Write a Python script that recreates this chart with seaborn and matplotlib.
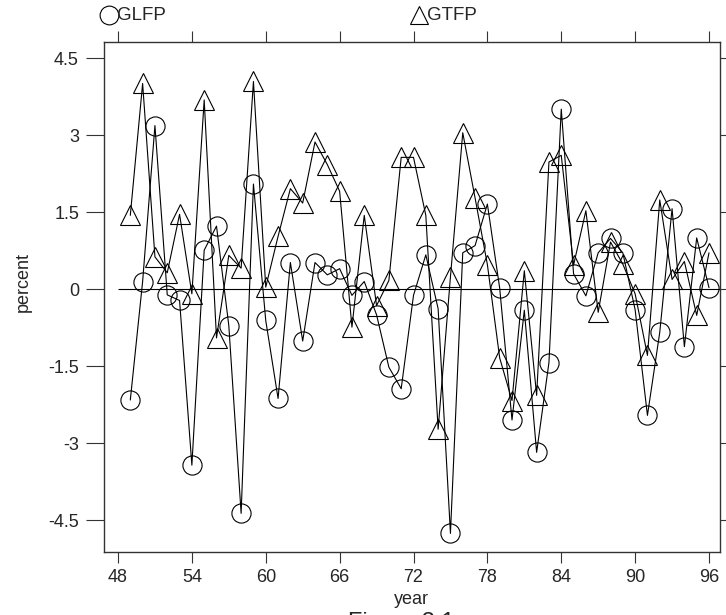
import numpy as np
import pandas as pd
import matplotlib
matplotlib.use("Agg")
import matplotlib.pyplot as plt
from matplotlib.lines import Line2D
import seaborn as sns

# Annual growth rates, 1949-1996 (percent)
years = list(range(49, 97))
glfp = [-2.16, 0.15, 3.19, -0.11, -0.22, -3.43, 0.76, 1.23, -0.71, -4.37,
        2.05, -0.61, -2.13, 0.52, -1.01, 0.52, 0.28, 0.40, -0.12, 0.15,
        -0.50, -1.52, -1.94, -0.12, 0.67, -0.38, -4.76, 0.71, 0.85, 1.66,
        0.02, -2.55, -0.41, -3.18, -1.43, 3.51, 0.30, -0.13, 0.71, 0.99,
        0.71, -0.40, -2.46, -0.84, 1.57, -1.12, 1.00, 0.03]
gtfp = [1.44, 4.01, 0.63, 0.32, 1.46, -0.09, 3.69, -0.95, 0.66, 0.41,
        4.05, 0.04, 1.03, 1.96, 1.68, 2.87, 2.43, 1.91, -0.74, 1.44,
        -0.32, 0.17, 2.57, 2.57, 1.44, -2.73, 0.24, 3.05, 1.78, 0.48,
        -1.34, -2.17, 0.36, -2.07, 2.48, 2.61, 0.47, 1.53, -0.45, 0.92,
        0.49, -0.09, -1.29, 1.74, 0.19, 0.54, -0.51, 0.71]
x_ticks = [48, 54, 60, 66, 72, 78, 84, 90, 96]
y_ticks = [-4.5, -3, -1.5, 0, 1.5, 3, 4.5]
y_tick_labels = ["-4.5", "-3", "-1.5", "0", "1.5", "3", "4.5"]

df = pd.DataFrame({"year": years, "GLFP": glfp, "GTFP": gtfp})

sns.set_style("white")
plt.rcParams["font.family"] = ["Liberation Sans", "DejaVu Sans"]

W, H = 726, 615
fig = plt.figure(figsize=(W / 100, H / 100), dpi=100)
ax = fig.add_axes([104 / W, 1 - 552 / H, (720 - 104) / W, (552 - 42) / H])

ms = 13.8
common = dict(color="black", linewidth=0.8, markersize=ms,
              markerfacecolor="none", markeredgecolor="black",
              markeredgewidth=0.8, estimator=None, legend=False, ax=ax)
sns.lineplot(data=df, x="year", y="GLFP", marker="o", **common)
sns.lineplot(data=df, x="year", y="GTFP", marker="^", **common)

ax.hlines(0, 48, 97, color="black", linewidth=0.8)

ax.set_xlim(46.863, 96.893)
ax.set_ylim(-5.123, 4.819)
ax.set_xticks(x_ticks)
ax.set_xticklabels([str(t) for t in x_ticks])
ax.set_yticks(y_ticks)
ax.set_yticklabels(y_tick_labels)
ax.set_xlabel("")
ax.set_ylabel("")

for s in ax.spines.values():
    s.set_visible(True)
    s.set_color("#333333")
    s.set_linewidth(1.0)

ax.tick_params(axis="x", which="both", direction="out", length=8, width=0.8,
               color="#333333", labelsize=13, pad=4, top=True, bottom=True,
               labeltop=False)
ax.tick_params(axis="y", which="both", direction="out", length=13, width=0.8,
               color="#333333", labelsize=13, pad=5, left=True, right=True,
               labelright=False)

# axis titles
fig.text(411 / W, 1 - 599 / H, "year", ha="center", va="center", fontsize=13)
fig.text(23 / W, 1 - 282 / H, "percent", ha="center", va="center",
         rotation=90, fontsize=13)

# key above the plot region
for mx, mk, label in [(109, "o", "GLFP"), (419, "^", "GTFP")]:
    fig.add_artist(Line2D([mx / W], [1 - 15 / H], marker=mk, markersize=13.5,
                          markerfacecolor="none", markeredgecolor="black",
                          markeredgewidth=0.8, linestyle="none",
                          transform=fig.transFigure))
    fig.text((mx + 8) / W, 1 - 15 / H, label, ha="left", va="center",
             fontsize=13.5)

# caption, running off the lower edge of the page
fig.text(401 / W, 1 - 629 / H, "Figure 3.1", ha="center", va="baseline",
         fontsize=17)

fig.savefig("out.png", dpi=100)
